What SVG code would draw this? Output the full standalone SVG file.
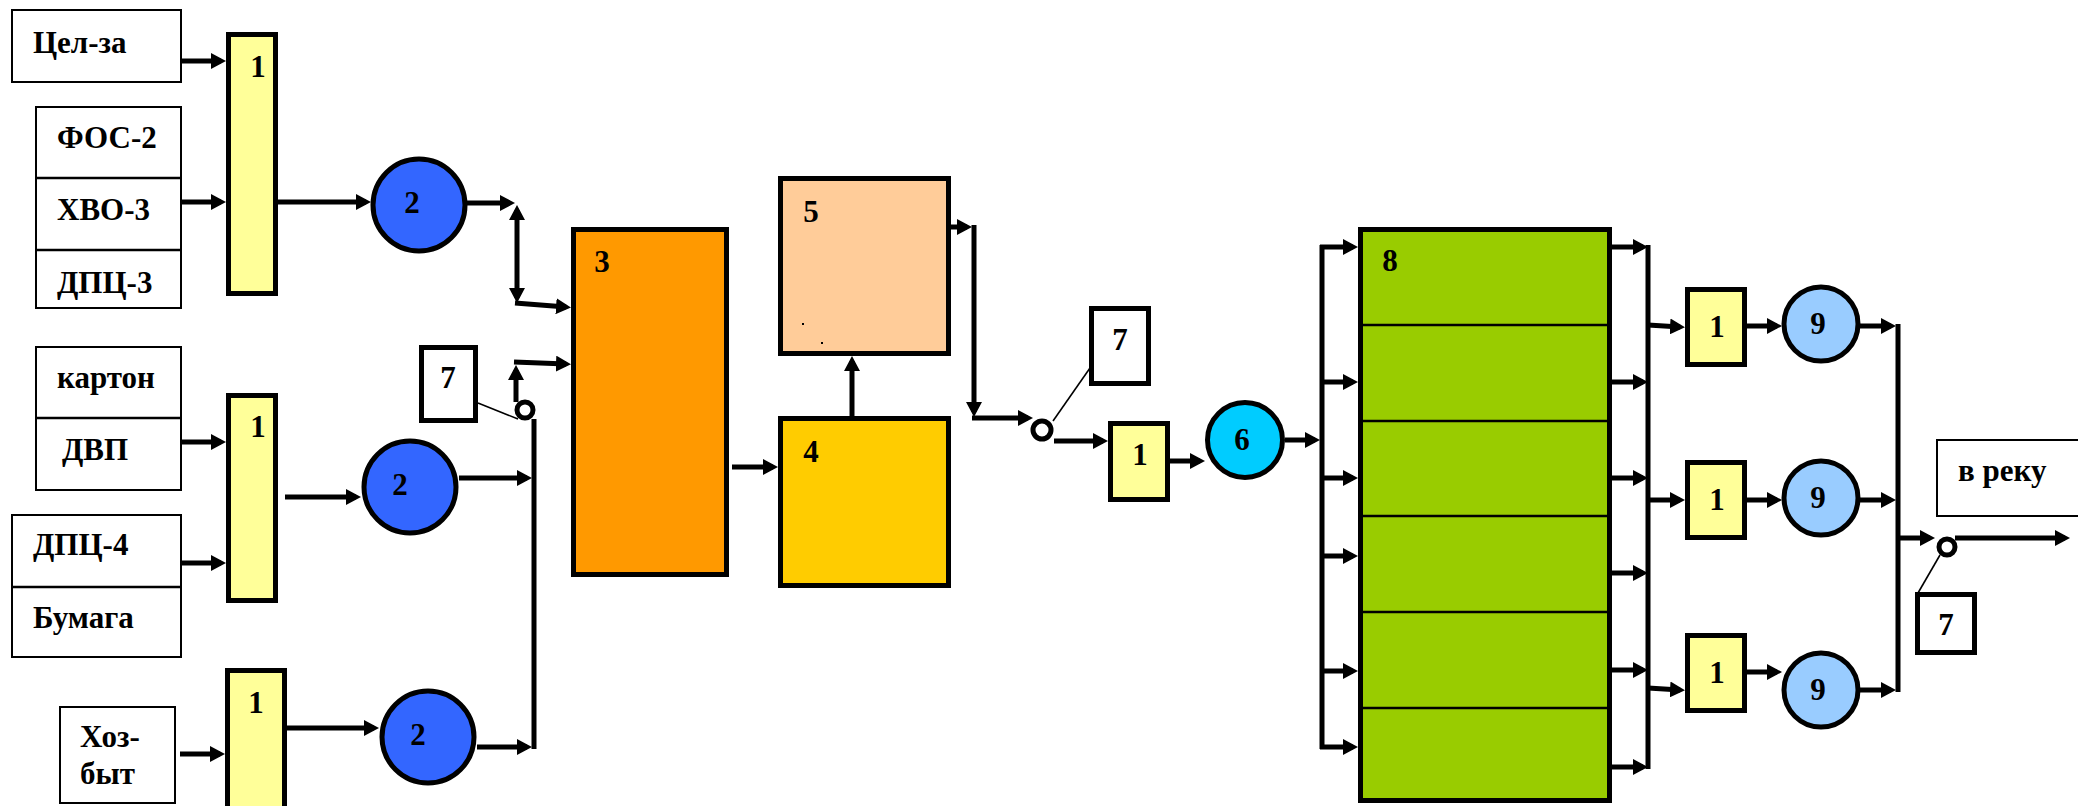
<svg xmlns="http://www.w3.org/2000/svg" width="2078" height="806" viewBox="0 0 2078 806">
<style>
text{font-family:"Liberation Serif","Times New Roman",serif;font-weight:bold;font-size:31px;fill:#000}
.num{font-size:31px;text-anchor:middle}
.in{fill:#fff;stroke:#000;stroke-width:2}
.thick{stroke:#000;stroke-width:5}
.c{fill:none;stroke:#000;stroke-width:5}
.a{marker-end:url(#ah)}
.thin{fill:none;stroke:#000;stroke-width:1.6}
.div{stroke:#000;stroke-width:2.5}
</style>
<defs>
<marker id="ah" markerUnits="userSpaceOnUse" markerWidth="16" markerHeight="16" refX="10" refY="8" orient="auto-start-reverse"><path d="M0,0 L15,8 L0,16 z" fill="#000"/></marker>
</defs>
<rect width="2078" height="806" fill="#fff"/>

<g id="src-celza"><rect class="in" x="12" y="10" width="169" height="72"/><text x="33" y="53">Цел-за</text></g>
<g id="src-fos"><rect class="in" x="36" y="107" width="145" height="201"/><line class="div" x1="36" y1="178" x2="181" y2="178"/><line class="div" x1="36" y1="250" x2="181" y2="250"/><text x="57" y="148">ФОС-2</text><text x="57" y="220">ХВО-3</text><text x="57" y="293">ДПЦ-3</text></g>
<g id="src-karton"><rect class="in" x="36" y="347" width="145" height="143"/><line class="div" x1="36" y1="418" x2="181" y2="418"/><text x="57" y="388">картон</text><text x="62" y="460">ДВП</text></g>
<g id="src-dpc4"><rect class="in" x="12" y="515" width="169" height="142"/><line class="div" x1="12" y1="587" x2="181" y2="587"/><text x="33" y="555">ДПЦ-4</text><text x="33" y="628">Бумага</text></g>
<g id="src-hoz"><rect class="in" x="60" y="707" width="115" height="96"/><text x="80" y="747">Хоз-</text><text x="80" y="784">быт</text></g>

<g id="n1a"><rect class="thick" fill="#FFFF99" x="228.5" y="34.5" width="47" height="259"/><text class="num" x="258" y="77">1</text></g>
<g id="n1b"><rect class="thick" fill="#FFFF99" x="228.5" y="395.5" width="47" height="205"/><text class="num" x="258" y="437">1</text></g>
<g id="n1c"><rect class="thick" fill="#FFFF99" x="227.5" y="670.5" width="57" height="150"/><text class="num" x="256" y="713">1</text></g>

<g id="n2a"><circle class="thick" fill="#3366FF" cx="419" cy="205" r="46"/><text class="num" x="412" y="213">2</text></g>
<g id="n2b"><circle class="thick" fill="#3366FF" cx="410" cy="487" r="46"/><text class="num" x="400" y="495">2</text></g>
<g id="n2c"><circle class="thick" fill="#3366FF" cx="428" cy="737" r="46"/><text class="num" x="418" y="745">2</text></g>

<g id="n7a"><rect class="thick" fill="#fff" x="421.5" y="347.5" width="54" height="73"/><text class="num" x="448" y="388">7</text></g>
<g id="n7b"><rect class="thick" fill="#fff" x="1091.5" y="308.5" width="57" height="75"/><text class="num" x="1120" y="350">7</text></g>
<g id="n7c"><rect class="thick" fill="#fff" x="1917.5" y="594.5" width="57" height="58"/><text class="num" x="1946" y="635">7</text></g>

<g id="n3"><rect class="thick" fill="#FF9900" x="573.5" y="229.5" width="153" height="345"/><text class="num" x="602" y="272">3</text></g>
<g id="n5"><rect class="thick" fill="#FFCC99" x="780.5" y="178.5" width="168" height="175"/><text class="num" x="811" y="222">5</text><rect x="802" y="323" width="2" height="2" fill="#000"/><rect x="821" y="342" width="2" height="2" fill="#000"/></g>
<g id="n4"><rect class="thick" fill="#FFCC00" x="780.5" y="418.5" width="168" height="167"/><text class="num" x="811" y="462">4</text></g>

<g id="n1d"><rect class="thick" fill="#FFFF99" x="1110.5" y="423.5" width="57" height="76"/><text class="num" x="1140" y="465">1</text></g>
<g id="n6"><circle class="thick" fill="#00CCFF" cx="1245" cy="440" r="37.5"/><text class="num" x="1242" y="450">6</text></g>

<g id="n8"><rect class="thick" fill="#99CC00" x="1360.5" y="229.5" width="249" height="571"/>
<line class="div" x1="1360" y1="325" x2="1610" y2="325"/><line class="div" x1="1360" y1="421" x2="1610" y2="421"/><line class="div" x1="1360" y1="516" x2="1610" y2="516"/><line class="div" x1="1360" y1="612" x2="1610" y2="612"/><line class="div" x1="1360" y1="708" x2="1610" y2="708"/>
<text class="num" x="1390" y="271">8</text></g>

<g id="n1e"><rect class="thick" fill="#FFFF99" x="1687.5" y="289.5" width="57" height="75"/><text class="num" x="1717" y="337">1</text></g>
<g id="n1f"><rect class="thick" fill="#FFFF99" x="1687.5" y="462.5" width="57" height="75"/><text class="num" x="1717" y="510">1</text></g>
<g id="n1g"><rect class="thick" fill="#FFFF99" x="1687.5" y="635.5" width="57" height="75"/><text class="num" x="1717" y="683">1</text></g>

<g id="n9a"><circle class="thick" fill="#99CCFF" cx="1821" cy="324" r="37"/><text class="num" x="1818" y="334">9</text></g>
<g id="n9b"><circle class="thick" fill="#99CCFF" cx="1821" cy="498" r="37"/><text class="num" x="1818" y="508">9</text></g>
<g id="n9c"><circle class="thick" fill="#99CCFF" cx="1821" cy="690" r="37"/><text class="num" x="1818" y="700">9</text></g>

<g id="out-river"><rect class="in" x="1937" y="440" width="150" height="76"/><text x="1958" y="481">в реку</text></g>

<g id="valves" fill="#fff" stroke="#000" stroke-width="5">
<circle cx="525" cy="410" r="8"/>
<circle cx="1042" cy="430" r="9"/>
<circle cx="1947" cy="547" r="8"/>
</g>

<g id="connectors">
<path class="c a" d="M181,61 H221"/>
<path class="c a" d="M181,202 H221"/>
<path class="c a" d="M278,202 H366"/>
<path class="c a" d="M467,203 H510"/>
<path class="c" d="M517,210 V298" marker-start="url(#ah)" marker-end="url(#ah)"/>
<path class="c a" d="M515,303 L566,307"/>
<path class="c a" d="M516,402 V370"/>
<path class="c a" d="M514,362 L566,364"/>
<path class="c" d="M534,419 V749"/>
<path class="c a" d="M459,478 H527"/>
<path class="c a" d="M477,747 H527"/>
<path class="c a" d="M181,442 H221"/>
<path class="c a" d="M181,563 H221"/>
<path class="c a" d="M285,497 H356"/>
<path class="c a" d="M180,754 H220"/>
<path class="c a" d="M287,728 H374"/>
<path class="c a" d="M732,467 H773"/>
<path class="c a" d="M852,416 V361"/>
<path class="c a" d="M951,227 H967"/>
<path class="c a" d="M974,225 V412"/>
<path class="c a" d="M972,418 H1028"/>
<path class="c a" d="M1054,441 H1103"/>
<path class="c a" d="M1170,461 H1200"/>
<path class="c a" d="M1285,440 H1315"/>
<path class="c" d="M1322,245 V749"/>
<path class="c a" d="M1320,247 H1353"/>
<path class="c a" d="M1320,382 H1353"/>
<path class="c a" d="M1320,478 H1353"/>
<path class="c a" d="M1320,556 H1353"/>
<path class="c a" d="M1320,671 H1353"/>
<path class="c a" d="M1320,747 H1353"/>
<path class="c a" d="M1612,247 H1643"/>
<path class="c a" d="M1612,382 H1643"/>
<path class="c a" d="M1612,478 H1643"/>
<path class="c a" d="M1612,573 H1643"/>
<path class="c a" d="M1612,670 H1643"/>
<path class="c a" d="M1612,767 H1643"/>
<path class="c" d="M1648,245 V769"/>
<path class="c a" d="M1648,325 L1680,327"/>
<path class="c a" d="M1648,500 H1680"/>
<path class="c a" d="M1648,688 L1680,690"/>
<path class="c a" d="M1746,326 H1777"/>
<path class="c a" d="M1746,500 H1777"/>
<path class="c a" d="M1746,672 H1777"/>
<path class="c a" d="M1858,326 H1891"/>
<path class="c a" d="M1858,500 H1891"/>
<path class="c a" d="M1858,690 H1891"/>
<path class="c" d="M1898,324 V692"/>
<path class="c a" d="M1898,538 H1930"/>
<path class="c a" d="M1955,538 H2065"/>
<path class="thin" d="M478,403 L518,419"/>
<path class="thin" d="M1053,421 L1090,368"/>
<path class="thin" d="M1918,593 L1940,555"/>
</g>
</svg>
